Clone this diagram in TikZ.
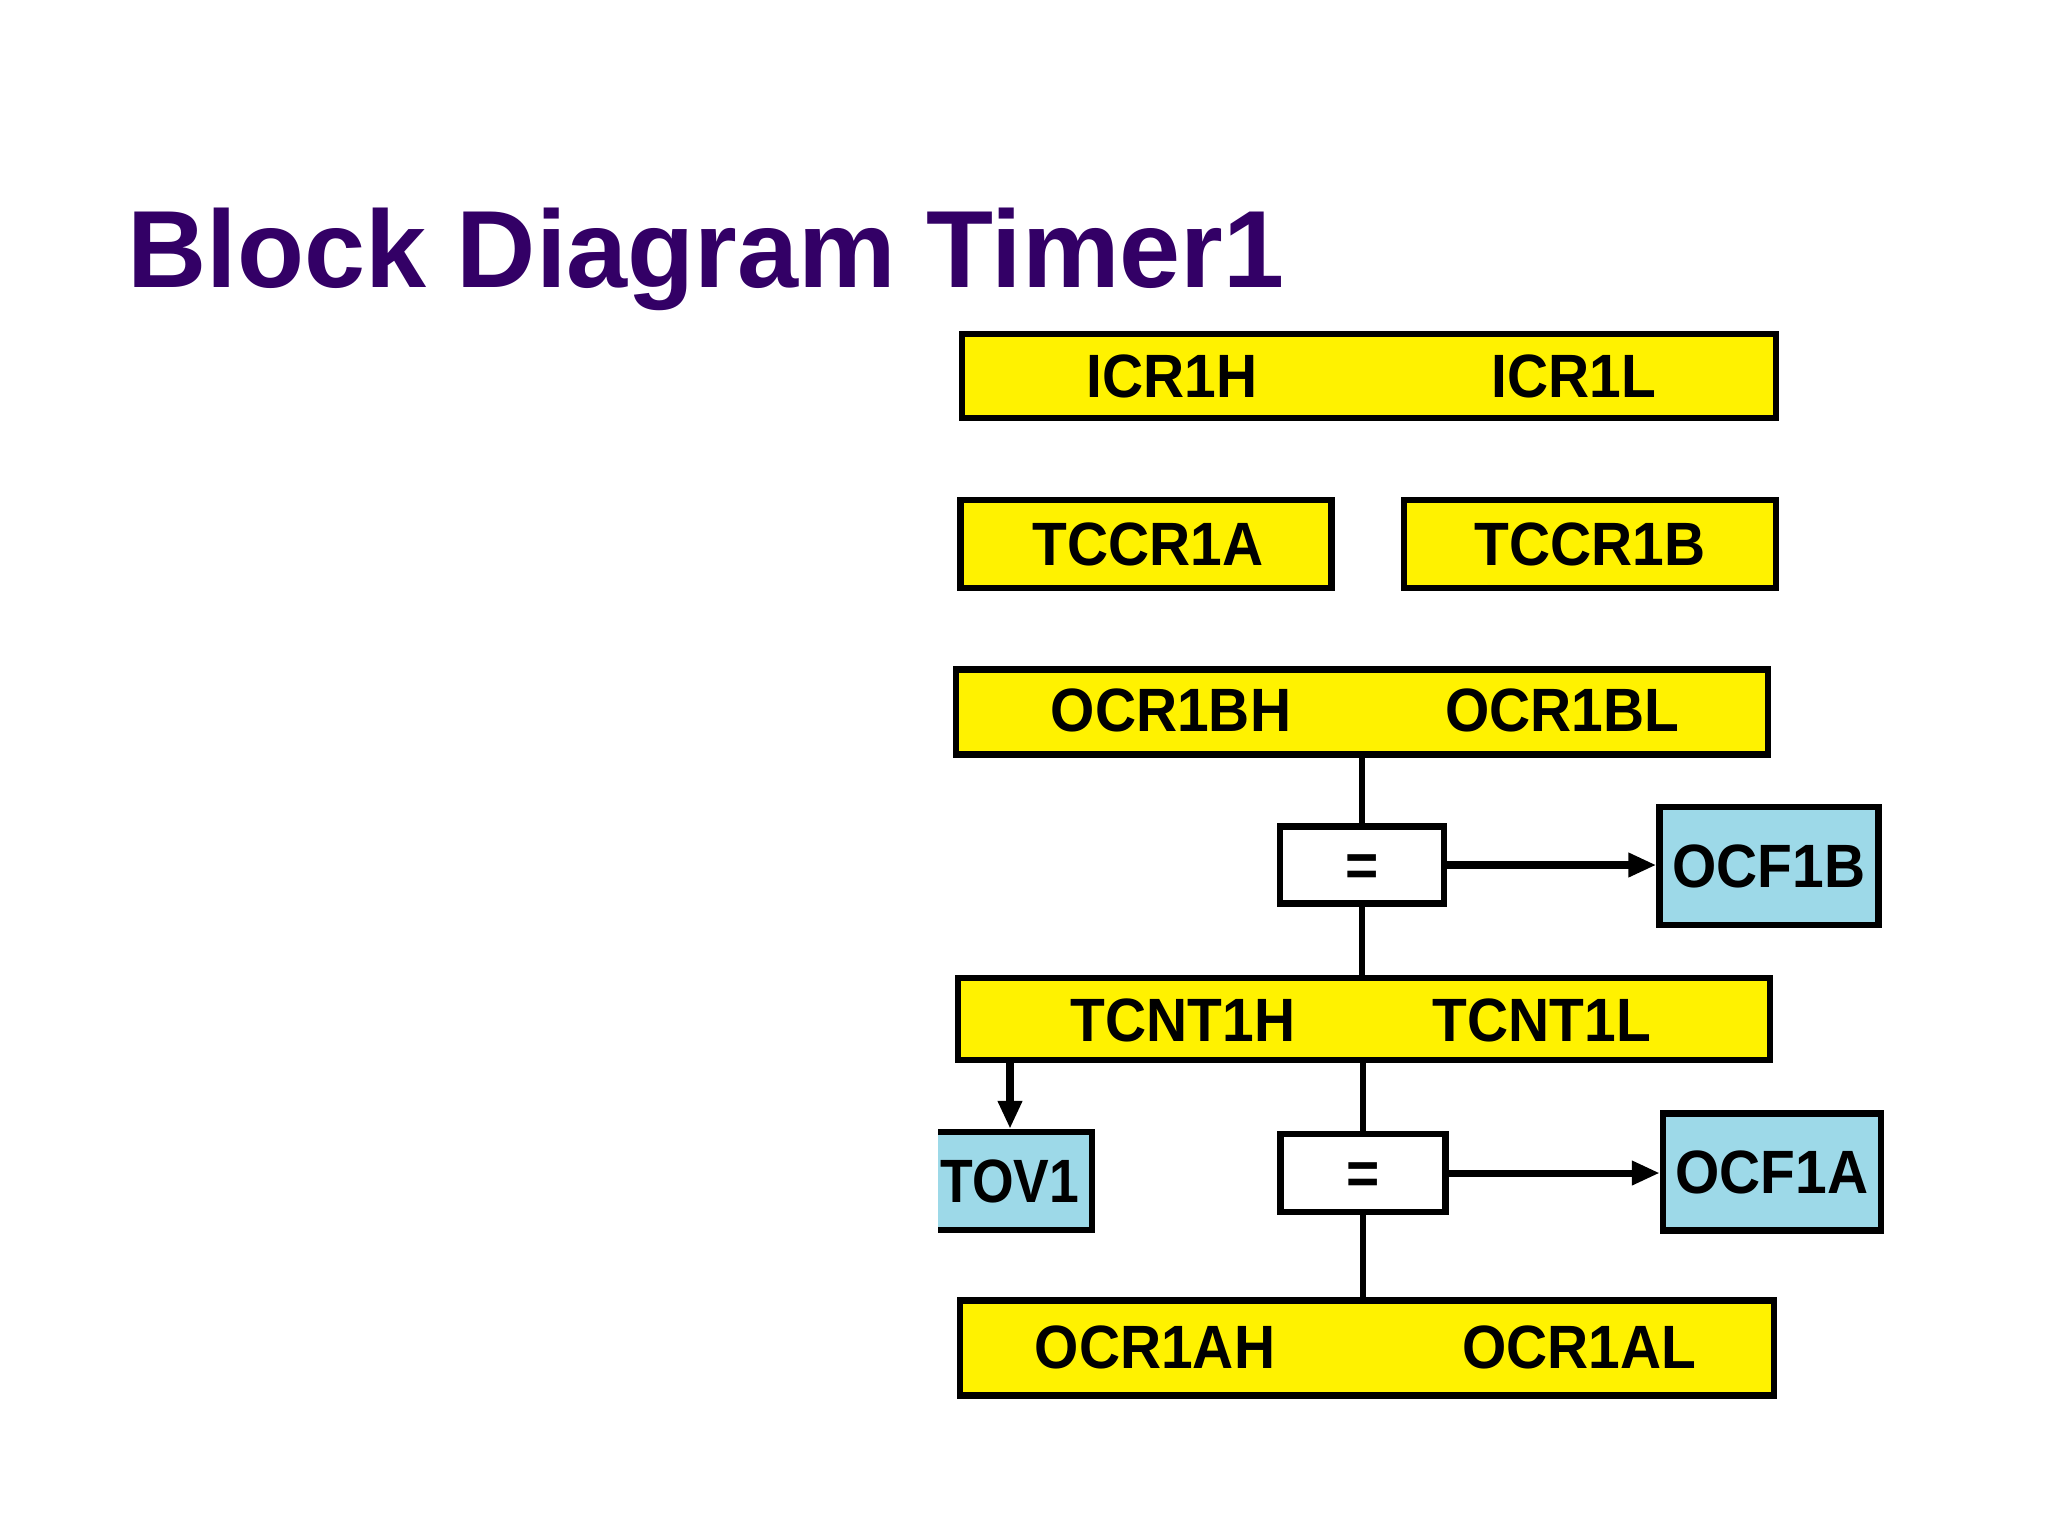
\documentclass[tikz,border=0pt]{standalone}
\usepackage{fontspec}
\setmainfont{Liberation Sans}
\newfontfamily\regfont[FakeStretch=0.93]{Liberation Sans}
\usetikzlibrary{arrows.meta}
\definecolor{regyellow}{RGB}{255,242,0}
\definecolor{flagblue}{RGB}{157,217,232}
\definecolor{titlepurple}{RGB}{51,0,102}
\newcommand{\boxtext}{\regfont\bfseries\fontsize{17.4}{20}\selectfont}

\begin{document}
\begin{tikzpicture}[x=0.01cm,y=-0.01cm,
    reg/.style={draw,line width=1.8pt,fill=regyellow,inner sep=0pt},
    flag/.style={draw,line width=1.8pt,fill=flagblue,inner sep=0pt,font=\boxtext},
    cmp/.style={draw,line width=1.8pt,fill=white,inner sep=0pt,font=\boxtext},
    lbl/.style={inner sep=0pt,font=\boxtext},
    wire/.style={line width=1.6pt},
    sig/.style={line width=2pt,-{Triangle[length=0.28cm,width=0.23cm]}}]
  \useasboundingbox[fill=white] (0,0) rectangle (2048,1536);
  \node[anchor=base west,inner sep=0pt,text=titlepurple,
    font=\bfseries\fontsize{31.2}{36}\selectfont] (title) at (127,287) {Block Diagram Timer1};
  % registers
  \node[reg,minimum width=8.14cm,minimum height=0.84cm] (icr) at (1369,376) {};
  \node[reg,minimum width=3.71cm,minimum height=0.88cm] (tccra) at (1146,544) {};
  \node[reg,minimum width=3.72cm,minimum height=0.88cm] (tccrb) at (1590,544) {};
  \node[reg,minimum width=8.11cm,minimum height=0.85cm] (ocrb) at (1362,712) {};
  \node[reg,minimum width=8.11cm,minimum height=0.82cm] (tcnt) at (1364,1019) {};
  \node[reg,minimum width=8.13cm,minimum height=0.95cm] (ocra) at (1367,1348) {};
  \node[lbl] (icrh) at (1172,376) {ICR1H};
  \node[lbl] (icrl) at (1574,376) {ICR1L};
  \node[lbl] (tccral) at (1148,544) {TCCR1A};
  \node[lbl] (tccrbl) at (1590,544) {TCCR1B};
  \node[lbl] (ocrbh) at (1171,710) {OCR1BH};
  \node[lbl] (ocrbl) at (1562,710) {OCR1BL};
  \node[lbl] (tcnth) at (1183,1020) {TCNT1H};
  \node[lbl] (tcntl) at (1542,1020) {TCNT1L};
  \node[lbl] (ocrah) at (1155,1347) {OCR1AH};
  \node[lbl] (ocral) at (1579,1347) {OCR1AL};
  % compare units and flags
  \node[cmp,minimum width=1.64cm,minimum height=0.77cm] (eqb) at (1362,865) {};
  \node[cmp,minimum width=1.65cm,minimum height=0.78cm] (eqa) at (1363,1173) {};
  \node[lbl] (eqbl) at (1362,871) {=};
  \node[lbl] (eqal) at (1363,1179) {=};
  \node[flag,minimum width=2.19cm,minimum height=1.18cm] (ocfb) at (1769,866) {OCF1B};
  \node[flag,minimum width=2.18cm,minimum height=1.17cm] (ocfa) at (1772,1172) {OCF1A};
  \begin{scope}
    \clip (938,1100) rectangle (1110,1250);
    \node[flag,minimum width=1.745cm,minimum height=0.98cm,xscale=0.94] (tov) at (1010,1181) {TOV1};
  \end{scope}
  % connections
  \draw[wire] (ocrb.south -| eqb) -- (eqb.north);
  \draw[wire] (eqb.south) -- (eqb.south |- tcnt.north);
  \draw[wire] (tcnt.south -| eqa) -- (eqa.north);
  \draw[wire] (eqa.south) -- (eqa.south |- ocra.north);
  \draw[sig] (eqb.east) -- (eqb.east -| ocfb.west);
  \draw[sig] (eqa.east) -- (eqa.east -| ocfa.west);
  \draw[sig] (tcnt.south -| tov.north) -- (tov.north);
\end{tikzpicture}
\end{document}
